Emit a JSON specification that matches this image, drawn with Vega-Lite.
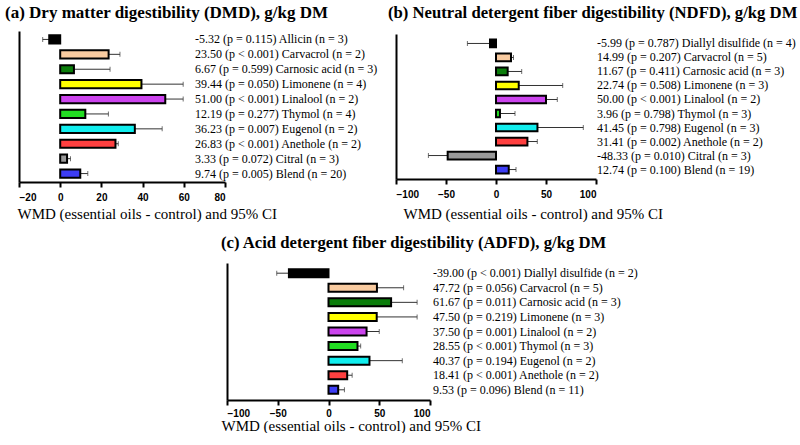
{
  "$schema": "https://vega.github.io/schema/vega-lite/v6.json",
  "padding": {"left": 5, "top": 4, "right": 0, "bottom": 0},
  "spacing": 14,
  "background": "white",
  "config": {
    "view": {"stroke": null},
    "axis": {"grid": false, "domainColor": "black", "domainWidth": 2, "tickColor": "black", "tickWidth": 2, "tickSize": 5, "labelFont": "Liberation Sans", "labelFontWeight": "bold", "labelFontSize": 10, "labelColor": "black", "titleFont": "Liberation Serif", "titleFontWeight": "normal", "titleFontSize": 15, "titleColor": "black"},
    "title": {"font": "Liberation Serif", "fontWeight": "bold", "fontSize": 17, "anchor": "start", "color": "black"},
    "text": {"font": "Liberation Serif", "fontSize": 12, "color": "black"}
  },
  "datasets": {
    "a": [
      {"name": "Allicin", "value": -5.32, "ci": -8.5, "label": "-5.32 (p = 0.115) Allicin (n = 3)"},
      {"name": "Carvacrol", "value": 23.5, "ci": 29, "label": "23.50 (p < 0.001) Carvacrol (n = 2)"},
      {"name": "Carnosic acid", "value": 6.67, "ci": 24.2, "label": "6.67 (p = 0.599) Carnosic acid (n = 3)"},
      {"name": "Limonene", "value": 39.44, "ci": 59.7, "label": "39.44 (p = 0.050) Limonene (n = 4)"},
      {"name": "Linalool", "value": 51.0, "ci": 59.7, "label": "51.00 (p < 0.001) Linalool (n = 2)"},
      {"name": "Thymol", "value": 12.19, "ci": 23.4, "label": "12.19 (p = 0.277) Thymol (n = 4)"},
      {"name": "Eugenol", "value": 36.23, "ci": 49.5, "label": "36.23 (p = 0.007) Eugenol (n = 2)"},
      {"name": "Anethole", "value": 26.83, "ci": 28.2, "label": "26.83 (p < 0.001) Anethole (n = 2)"},
      {"name": "Citral", "value": 3.33, "ci": 5, "label": "3.33 (p = 0.072) Citral (n = 3)"},
      {"name": "Blend", "value": 9.74, "ci": 13.4, "label": "9.74 (p = 0.005) Blend (n = 20)"}
    ],
    "b": [
      {"name": "Diallyl disulfide", "value": -5.99, "ci": -28.6, "label": "-5.99 (p = 0.787) Diallyl disulfide (n = 4)"},
      {"name": "Carvacrol", "value": 14.99, "ci": 17.5, "label": "14.99 (p = 0.207) Carvacrol (n = 5)"},
      {"name": "Carnosic acid", "value": 11.67, "ci": 25.7, "label": "11.67 (p = 0.411) Carnosic acid (n = 3)"},
      {"name": "Limonene", "value": 22.74, "ci": 66.7, "label": "22.74 (p = 0.508) Limonene (n = 3)"},
      {"name": "Linalool", "value": 50.0, "ci": 61.3, "label": "50.00 (p < 0.001) Linalool (n = 2)"},
      {"name": "Thymol", "value": 3.96, "ci": 19, "label": "3.96 (p = 0.798) Thymol (n = 3)"},
      {"name": "Eugenol", "value": 41.45, "ci": 87.3, "label": "41.45 (p = 0.798) Eugenol (n = 3)"},
      {"name": "Anethole", "value": 31.41, "ci": 41.3, "label": "31.41 (p = 0.002) Anethole (n = 2)"},
      {"name": "Citral", "value": -48.33, "ci": -67.6, "label": "-48.33 (p = 0.010) Citral (n = 3)"},
      {"name": "Blend", "value": 12.74, "ci": 20, "label": "12.74 (p = 0.100) Blend (n = 19)"}
    ],
    "c": [
      {"name": "Diallyl disulfide", "value": -39.0, "ci": -51, "label": "-39.00 (p < 0.001) Diallyl disulfide (n = 2)"},
      {"name": "Carvacrol", "value": 47.72, "ci": 74, "label": "47.72 (p = 0.056) Carvacrol (n = 5)"},
      {"name": "Carnosic acid", "value": 61.67, "ci": 87.3, "label": "61.67 (p = 0.011) Carnosic acid (n = 3)"},
      {"name": "Limonene", "value": 47.5, "ci": 87.3, "label": "47.50 (p = 0.219) Limonene (n = 3)"},
      {"name": "Linalool", "value": 37.5, "ci": 50, "label": "37.50 (p = 0.001) Linalool (n = 2)"},
      {"name": "Thymol", "value": 28.55, "ci": 31.7, "label": "28.55 (p < 0.001) Thymol (n = 3)"},
      {"name": "Eugenol", "value": 40.37, "ci": 72.7, "label": "40.37 (p = 0.194) Eugenol (n = 2)"},
      {"name": "Anethole", "value": 18.41, "ci": 23.3, "label": "18.41 (p < 0.001) Anethole (n = 2)"},
      {"name": "Blend", "value": 9.53, "ci": 15.7, "label": "9.53 (p = 0.096) Blend (n = 11)"}
    ]
  },
  "resolve": {"scale": {"x": "independent", "y": "independent"}},
  "vconcat": [
    {
      "hconcat": [
        {
          "width": 206, "height": 151,
          "data": {"name": "a"},
          "title": {"text": "(a) Dry matter digestibility (DMD), g/kg DM", "offset": 9, "dx": -12},
          "encoding": {"y": {"field": "name", "type": "nominal", "sort": null, "scale": {"paddingInner": 0.45, "paddingOuter": 0.29}, "axis": {"labels": false, "ticks": false, "title": null}}},
          "layer": [
            {"mark": {"type": "rule", "color": "#333333", "strokeWidth": 1},
             "encoding": {"x": {"field": "value", "type": "quantitative", "scale": {"domain": [-20, 80], "nice": false, "zero": false}, "axis": {"values": [-20, 0, 20, 40, 60, 80], "title": "WMD (essential oils - control) and 95% CI", "titleAnchor": "start", "titleAlign": "left", "titleX": -2, "titleY": 36, "titleBaseline": "alphabetic", "labelPadding": 5}}, "x2": {"field": "ci"}}},
            {"mark": {"type": "tick", "orient": "vertical", "size": 5, "thickness": 1, "color": "#333333"},
             "encoding": {"x": {"field": "ci", "type": "quantitative", "axis": {"values": [-20, 0, 20, 40, 60, 80], "title": "WMD (essential oils - control) and 95% CI", "titleAnchor": "start", "titleAlign": "left", "titleX": -2, "titleY": 36, "titleBaseline": "alphabetic", "labelPadding": 5}}}},
            {"mark": {"type": "bar", "stroke": "black", "strokeWidth": 2},
             "encoding": {"x": {"field": "value", "type": "quantitative", "axis": {"values": [-20, 0, 20, 40, 60, 80], "title": "WMD (essential oils - control) and 95% CI", "titleAnchor": "start", "titleAlign": "left", "titleX": -2, "titleY": 36, "titleBaseline": "alphabetic", "labelPadding": 5}}, "x2": {"datum": 0},
               "color": {"field": "name", "type": "nominal", "legend": null, "scale": {"domain": ["Allicin", "Diallyl disulfide", "Carvacrol", "Carnosic acid", "Limonene", "Linalool", "Thymol", "Eugenol", "Anethole", "Citral", "Blend"], "range": ["#000000", "#000000", "#F9CBA0", "#0B7D0B", "#FFFF00", "#CC44EE", "#22DD22", "#11EEEE", "#FF4040", "#999999", "#3D3DF5"]}}}},
            {"mark": {"type": "text", "align": "left", "baseline": "middle", "dx": 1},
             "encoding": {"x": {"datum": 65, "type": "quantitative", "axis": {"values": [-20, 0, 20, 40, 60, 80], "title": "WMD (essential oils - control) and 95% CI", "titleAnchor": "start", "titleAlign": "left", "titleX": -2, "titleY": 36, "titleBaseline": "alphabetic", "labelPadding": 5}}, "text": {"field": "label"}}}
          ]
        },
        {
          "width": 200, "height": 145,
          "data": {"name": "b"},
          "title": {"text": "(b) Neutral detergent fiber digestibility (NDFD), g/kg DM", "offset": 12, "dx": -7, "fontSize": 16.7},
          "encoding": {"y": {"field": "name", "type": "nominal", "sort": null, "scale": {"paddingInner": 0.45, "paddingOuter": 0.4}, "axis": {"labels": false, "ticks": false, "title": null}}},
          "layer": [
            {"mark": {"type": "rule", "color": "#333333", "strokeWidth": 1},
             "encoding": {"x": {"field": "value", "type": "quantitative", "scale": {"domain": [-100, 100], "nice": false, "zero": false}, "axis": {"values": [-100, -50, 0, 50, 100], "title": "WMD (essential oils - control) and 95% CI", "titleAnchor": "start", "titleAlign": "left", "titleX": 7, "titleY": 39, "titleBaseline": "alphabetic", "labelPadding": 5}}, "x2": {"field": "ci"}}},
            {"mark": {"type": "tick", "orient": "vertical", "size": 5, "thickness": 1, "color": "#333333"},
             "encoding": {"x": {"field": "ci", "type": "quantitative", "axis": {"values": [-100, -50, 0, 50, 100], "title": "WMD (essential oils - control) and 95% CI", "titleAnchor": "start", "titleAlign": "left", "titleX": 7, "titleY": 39, "titleBaseline": "alphabetic", "labelPadding": 5}}}},
            {"mark": {"type": "bar", "stroke": "black", "strokeWidth": 2},
             "encoding": {"x": {"field": "value", "type": "quantitative", "axis": {"values": [-100, -50, 0, 50, 100], "title": "WMD (essential oils - control) and 95% CI", "titleAnchor": "start", "titleAlign": "left", "titleX": 7, "titleY": 39, "titleBaseline": "alphabetic", "labelPadding": 5}}, "x2": {"datum": 0},
               "color": {"field": "name", "type": "nominal", "legend": null}}},
            {"mark": {"type": "text", "align": "left", "baseline": "middle", "dx": 1},
             "encoding": {"x": {"datum": 100, "type": "quantitative", "axis": {"values": [-100, -50, 0, 50, 100], "title": "WMD (essential oils - control) and 95% CI", "titleAnchor": "start", "titleAlign": "left", "titleX": 7, "titleY": 39, "titleBaseline": "alphabetic", "labelPadding": 5}}, "text": {"field": "label"}}}
          ]
        }
      ],
      "spacing": 171,
      "bounds": "flush",
      "center": true,
      "resolve": {"scale": {"x": "independent", "y": "independent"}}
    },
    {
      "hconcat": [
        {"width": 208, "height": 10, "data": {"values": [{"s": 0}]}, "mark": {"type": "text", "text": ""}, "encoding": {}},
        {
          "width": 203, "height": 137,
          "data": {"name": "c"},
          "title": {"text": "(c) Acid detergent fiber digestibility (ADFD), g/kg DM", "offset": 11, "dx": 0, "fontSize": 16.7},
          "encoding": {"y": {"field": "name", "type": "nominal", "sort": null, "scale": {"paddingInner": 0.45, "paddingOuter": 0.425}, "axis": {"labels": false, "ticks": false, "title": null}}},
          "layer": [
            {"mark": {"type": "rule", "color": "#333333", "strokeWidth": 1},
             "encoding": {"x": {"field": "value", "type": "quantitative", "scale": {"domain": [-100, 100], "nice": false, "zero": false}, "axis": {"values": [-100, -50, 0, 50, 100], "title": "WMD (essential oils - control) and 95% CI", "titleAnchor": "start", "titleAlign": "left", "titleX": -6, "titleY": 30, "titleBaseline": "alphabetic", "labelPadding": 3}}, "x2": {"field": "ci"}}},
            {"mark": {"type": "tick", "orient": "vertical", "size": 5, "thickness": 1, "color": "#333333"},
             "encoding": {"x": {"field": "ci", "type": "quantitative", "axis": {"values": [-100, -50, 0, 50, 100], "title": "WMD (essential oils - control) and 95% CI", "titleAnchor": "start", "titleAlign": "left", "titleX": -6, "titleY": 30, "titleBaseline": "alphabetic", "labelPadding": 3}}}},
            {"mark": {"type": "bar", "stroke": "black", "strokeWidth": 2},
             "encoding": {"x": {"field": "value", "type": "quantitative", "axis": {"values": [-100, -50, 0, 50, 100], "title": "WMD (essential oils - control) and 95% CI", "titleAnchor": "start", "titleAlign": "left", "titleX": -6, "titleY": 30, "titleBaseline": "alphabetic", "labelPadding": 3}}, "x2": {"datum": 0},
               "color": {"field": "name", "type": "nominal", "legend": null}}},
            {"mark": {"type": "text", "align": "left", "baseline": "middle", "dx": 3},
             "encoding": {"x": {"datum": 100, "type": "quantitative", "axis": {"values": [-100, -50, 0, 50, 100], "title": "WMD (essential oils - control) and 95% CI", "titleAnchor": "start", "titleAlign": "left", "titleX": -6, "titleY": 30, "titleBaseline": "alphabetic", "labelPadding": 3}}, "text": {"field": "label"}}}
          ]
        }
      ],
      "spacing": 0,
      "bounds": "flush",
      "resolve": {"scale": {"x": "independent", "y": "independent"}}
    }
  ]
}
